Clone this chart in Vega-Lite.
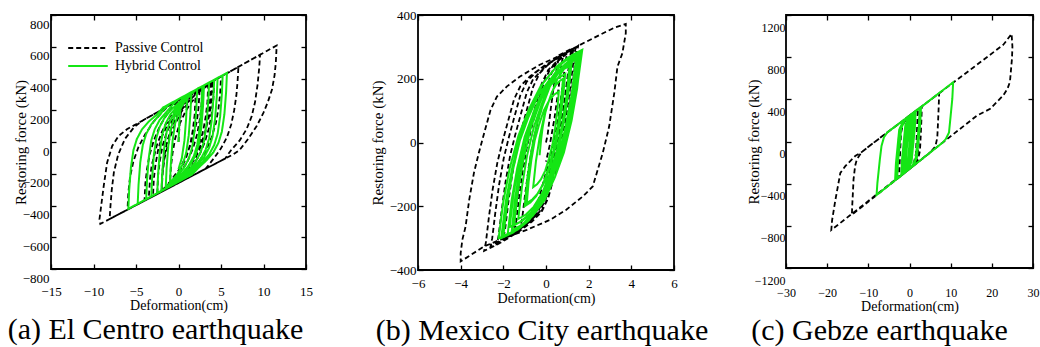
{
  "$schema": "https://vega.github.io/schema/vega-lite/v6.json",
  "background": "white",
  "padding": {"left": 6, "top": 8, "right": 0, "bottom": 0},
  "bounds": "flush",
  "spacing": 112,
  "config": {
    "font": "Liberation Serif",
    "view": {"stroke": "black", "strokeWidth": 1.8},
    "style": {"guide-label": {"font": "Liberation Serif"}, "guide-title": {"font": "Liberation Serif"}, "group-title": {"font": "Liberation Serif"}},
    "axis": {"grid": false, "domain": false, "ticks": true, "tickSize": -5, "tickColor": "black", "tickWidth": 1.3,
      "labelFont": "Liberation Serif", "labelFontSize": 13, "labelColor": "black", "labelFlush": false, "labelOverlap": false, "format": "d",
      "titleFont": "Liberation Serif", "titleFontSize": 15, "titleFontWeight": "normal", "titleColor": "black"},
    "legend": {"labelFont": "Liberation Serif", "titleFont": "Liberation Serif"},
    "title": {"font": "Liberation Serif", "fontSize": 30, "fontWeight": "normal", "color": "black"}
  },
  "resolve": {"scale": {"color": "independent", "strokeDash": "independent"}, "legend": {"color": "independent", "strokeDash": "independent"}},
  "datasets": {
    "ap": [
      {"s":"P","x":0,"y":0},{"s":"P","x":0.15,"y":125},{"s":"P","x":0.35,"y":210},{"s":"P","x":0.95,"y":290},{"s":"P","x":2.5,"y":337},
      {"s":"P","x":2.35,"y":212},{"s":"P","x":2.15,"y":127},{"s":"P","x":1.55,"y":2},{"s":"P","x":0.95,"y":-83},{"s":"P","x":0.15,"y":-168},{"s":"P","x":-1.05,"y":-253},{"s":"P","x":-2,"y":-314},
      {"s":"P","x":-1.85,"y":-189},{"s":"P","x":-1.65,"y":-104},{"s":"P","x":-1.05,"y":21},{"s":"P","x":-0.45,"y":106},{"s":"P","x":0.35,"y":191},{"s":"P","x":1.55,"y":276},{"s":"P","x":2.3,"y":326},{"s":"P","x":4,"y":382},
      {"s":"P","x":3.85,"y":257},{"s":"P","x":3.65,"y":172},{"s":"P","x":3.05,"y":47},{"s":"P","x":2.45,"y":-38},{"s":"P","x":1.65,"y":-123},{"s":"P","x":0.45,"y":-208},{"s":"P","x":-0.3,"y":-262},{"s":"P","x":-3.5,"y":-356},
      {"s":"P","x":-3.35,"y":-231},{"s":"P","x":-3.15,"y":-146},{"s":"P","x":-2.55,"y":-21},{"s":"P","x":-1.95,"y":64},{"s":"P","x":-1.15,"y":149},{"s":"P","x":0.05,"y":234},{"s":"P","x":1,"y":290},{"s":"P","x":6,"y":442},{"s":"P","x":11.55,"y":608},
      {"s":"P","x":11.45,"y":500},{"s":"P","x":11.3,"y":420},{"s":"P","x":11,"y":330},{"s":"P","x":10.5,"y":250},{"s":"P","x":10,"y":185},{"s":"P","x":9.2,"y":100},{"s":"P","x":8.2,"y":20},{"s":"P","x":7.2,"y":-50},{"s":"P","x":6.5,"y":-76},{"s":"P","x":0,"y":-258},{"s":"P","x":-9.2,"y":-516},
      {"s":"P","x":-9.3,"y":-488},{"s":"P","x":-9,"y":-362},{"s":"P","x":-8.8,"y":-278},{"s":"P","x":-8.4,"y":-130},{"s":"P","x":-7.8,"y":-25},{"s":"P","x":-7.05,"y":38},{"s":"P","x":-6.07,"y":80},{"s":"P","x":0,"y":262},{"s":"P","x":9.6,"y":550},
      {"s":"P","x":9.5,"y":470},{"s":"P","x":9.3,"y":360},{"s":"P","x":9,"y":250},{"s":"P","x":8.6,"y":160},{"s":"P","x":8,"y":80},{"s":"P","x":7.2,"y":10},{"s":"P","x":6.2,"y":-50},{"s":"P","x":5.5,"y":-104},{"s":"P","x":-8.1,"y":-485},
      {"s":"P","x":-8,"y":-400},{"s":"P","x":-7.85,"y":-300},{"s":"P","x":-7.6,"y":-190},{"s":"P","x":-7.1,"y":-80},{"s":"P","x":-6.3,"y":20},{"s":"P","x":-5.2,"y":95},{"s":"P","x":-4.2,"y":136},{"s":"P","x":7.05,"y":473},
      {"s":"P","x":6.95,"y":380},{"s":"P","x":6.8,"y":290},{"s":"P","x":6.55,"y":200},{"s":"P","x":6.2,"y":110},{"s":"P","x":5.7,"y":30},{"s":"P","x":5,"y":-40},{"s":"P","x":4.2,"y":-100},{"s":"P","x":3.2,"y":-168},{"s":"P","x":-6,"y":-426},
      {"s":"P","x":-5.9,"y":-320},{"s":"P","x":-5.7,"y":-220},{"s":"P","x":-5.3,"y":-120},{"s":"P","x":-4.7,"y":-30},{"s":"P","x":-3.9,"y":50},{"s":"P","x":-2.9,"y":130},{"s":"P","x":-1.8,"y":195},{"s":"P","x":-1.2,"y":226},{"s":"P","x":5,"y":412},
      {"s":"P","x":4.9,"y":300},{"s":"P","x":4.7,"y":210},{"s":"P","x":4.4,"y":120},{"s":"P","x":3.9,"y":30},{"s":"P","x":3.2,"y":-60},{"s":"P","x":2.3,"y":-130},{"s":"P","x":1.2,"y":-200},{"s":"P","x":0.5,"y":-244},{"s":"P","x":-4,"y":-370},
      {"s":"P","x":-3.9,"y":-260},{"s":"P","x":-3.7,"y":-170},{"s":"P","x":-3.4,"y":-80},{"s":"P","x":-2.9,"y":10},{"s":"P","x":-2.2,"y":100},{"s":"P","x":-1.3,"y":180},{"s":"P","x":-0.2,"y":250},{"s":"P","x":3.5,"y":367},
      {"s":"P","x":3.4,"y":250},{"s":"P","x":3.2,"y":160},{"s":"P","x":2.9,"y":70},{"s":"P","x":2.4,"y":-20},{"s":"P","x":1.7,"y":-110},{"s":"P","x":0.8,"y":-180},{"s":"P","x":-0.2,"y":-240},{"s":"P","x":-1,"y":-286},{"s":"P","x":-3,"y":-342},
      {"s":"P","x":-2.9,"y":-230},{"s":"P","x":-2.7,"y":-140},{"s":"P","x":-2.4,"y":-50},{"s":"P","x":-1.9,"y":40},{"s":"P","x":-1.2,"y":120},{"s":"P","x":-0.3,"y":190},{"s":"P","x":0.8,"y":250},{"s":"P","x":1.8,"y":305},{"s":"P","x":4.2,"y":388},
      {"s":"P","x":4.1,"y":270},{"s":"P","x":3.9,"y":180},{"s":"P","x":3.6,"y":90},{"s":"P","x":3.1,"y":0},{"s":"P","x":2.4,"y":-90},{"s":"P","x":1.5,"y":-160},{"s":"P","x":0.4,"y":-220},{"s":"P","x":-0.8,"y":-275},{"s":"P","x":-2.5,"y":-328},
      {"s":"P","x":-2.4,"y":-210},{"s":"P","x":-2.2,"y":-120},{"s":"P","x":-1.9,"y":-30},{"s":"P","x":-1.4,"y":60},{"s":"P","x":-0.6,"y":150},{"s":"P","x":0.4,"y":230},{"s":"P","x":1.5,"y":295},{"s":"P","x":2.8,"y":346},
      {"s":"P","x":2.7,"y":230},{"s":"P","x":2.5,"y":140},{"s":"P","x":2.2,"y":50},{"s":"P","x":1.7,"y":-40},{"s":"P","x":1,"y":-130},{"s":"P","x":0.1,"y":-200},{"s":"P","x":-1,"y":-260},{"s":"P","x":-2,"y":-305},
      {"s":"P","x":-1.9,"y":-190},{"s":"P","x":-1.7,"y":-100},{"s":"P","x":-1.4,"y":-10},{"s":"P","x":-0.9,"y":80},{"s":"P","x":-0.1,"y":170},{"s":"P","x":0.9,"y":240},{"s":"P","x":2,"y":300},{"s":"P","x":3.8,"y":370},
      {"s":"P","x":3.7,"y":250},{"s":"P","x":3.5,"y":160},{"s":"P","x":3.2,"y":70},{"s":"P","x":2.7,"y":-20},{"s":"P","x":2,"y":-100},{"s":"P","x":1.1,"y":-170},{"s":"P","x":0,"y":-230},{"s":"P","x":-1,"y":-270},
      {"s":"P","x":-0.9,"y":-160},{"s":"P","x":-0.7,"y":-70},{"s":"P","x":-0.4,"y":20},{"s":"P","x":0.1,"y":110},{"s":"P","x":0.8,"y":190},{"s":"P","x":1.5,"y":250},{"s":"P","x":2,"y":280},
      {"s":"P","x":1.9,"y":170},{"s":"P","x":1.7,"y":80},{"s":"P","x":1.4,"y":-10},{"s":"P","x":0.9,"y":-100},{"s":"P","x":0.2,"y":-180},{"s":"P","x":0,"y":-195}
    ],
    "ah": [
      {"s":"H","x":0,"y":0},{"s":"H","x":0.1,"y":120},{"s":"H","x":0.3,"y":260},{"s":"H","x":0.6,"y":287},{"s":"H","x":3,"y":357},
      {"s":"H","x":2.9,"y":237},{"s":"H","x":2.7,"y":97},{"s":"H","x":2.4,"y":-13},{"s":"H","x":2,"y":-83},{"s":"H","x":1.4,"y":-143},{"s":"H","x":0.6,"y":-193},{"s":"H","x":-0.5,"y":-262},{"s":"H","x":-2.5,"y":-322},
      {"s":"H","x":-2.4,"y":-202},{"s":"H","x":-2.2,"y":-62},{"s":"H","x":-1.9,"y":48},{"s":"H","x":-1.5,"y":118},{"s":"H","x":-0.9,"y":178},{"s":"H","x":-0.1,"y":228},{"s":"H","x":0.8,"y":280},{"s":"H","x":1.2,"y":305},{"s":"H","x":4.2,"y":392},
      {"s":"H","x":4.1,"y":272},{"s":"H","x":3.9,"y":132},{"s":"H","x":3.6,"y":22},{"s":"H","x":3.2,"y":-48},{"s":"H","x":2.6,"y":-108},{"s":"H","x":1.8,"y":-158},{"s":"H","x":0.9,"y":-200},{"s":"H","x":0.2,"y":-244},{"s":"H","x":-3.8,"y":-360},
      {"s":"H","x":-3.7,"y":-240},{"s":"H","x":-3.5,"y":-100},{"s":"H","x":-3.2,"y":10},{"s":"H","x":-2.8,"y":80},{"s":"H","x":-2.2,"y":140},{"s":"H","x":-1.4,"y":190},{"s":"H","x":-0.6,"y":240},{"s":"H","x":0,"y":270},{"s":"H","x":5.7,"y":435},
      {"s":"H","x":5.6,"y":315},{"s":"H","x":5.4,"y":175},{"s":"H","x":5.1,"y":65},{"s":"H","x":4.7,"y":-5},{"s":"H","x":4.1,"y":-65},{"s":"H","x":3.3,"y":-115},{"s":"H","x":2.4,"y":-160},{"s":"H","x":1.6,"y":-204},{"s":"H","x":-5.9,"y":-421},
      {"s":"H","x":-5.8,"y":-301},{"s":"H","x":-5.6,"y":-161},{"s":"H","x":-5.3,"y":-51},{"s":"H","x":-4.9,"y":19},{"s":"H","x":-4.3,"y":79},{"s":"H","x":-3.5,"y":129},{"s":"H","x":-2.6,"y":170},{"s":"H","x":-1.8,"y":218},{"s":"H","x":5.2,"y":421},
      {"s":"H","x":5.1,"y":301},{"s":"H","x":4.9,"y":161},{"s":"H","x":4.6,"y":51},{"s":"H","x":4.2,"y":-19},{"s":"H","x":3.6,"y":-79},{"s":"H","x":2.8,"y":-129},{"s":"H","x":2,"y":-170},{"s":"H","x":1.2,"y":-215},{"s":"H","x":-4.8,"y":-389},
      {"s":"H","x":-4.7,"y":-269},{"s":"H","x":-4.5,"y":-129},{"s":"H","x":-4.2,"y":-19},{"s":"H","x":-3.8,"y":51},{"s":"H","x":-3.2,"y":111},{"s":"H","x":-2.4,"y":161},{"s":"H","x":-1.6,"y":210},{"s":"H","x":-1,"y":241},{"s":"H","x":4.6,"y":403},
      {"s":"H","x":4.5,"y":283},{"s":"H","x":4.3,"y":143},{"s":"H","x":4,"y":33},{"s":"H","x":3.6,"y":-37},{"s":"H","x":3,"y":-97},{"s":"H","x":2.2,"y":-147},{"s":"H","x":1.4,"y":-190},{"s":"H","x":0.7,"y":-230},{"s":"H","x":-3.2,"y":-343},
      {"s":"H","x":-3.1,"y":-223},{"s":"H","x":-2.9,"y":-83},{"s":"H","x":-2.6,"y":27},{"s":"H","x":-2.2,"y":97},{"s":"H","x":-1.6,"y":157},{"s":"H","x":-0.8,"y":207},{"s":"H","x":0,"y":245},{"s":"H","x":0.6,"y":275},{"s":"H","x":1.2,"y":305},{"s":"H","x":3.6,"y":374},
      {"s":"H","x":3.5,"y":254},{"s":"H","x":3.3,"y":114},{"s":"H","x":3,"y":4},{"s":"H","x":2.6,"y":-66},{"s":"H","x":2,"y":-126},{"s":"H","x":1.2,"y":-176},{"s":"H","x":0.4,"y":-215},{"s":"H","x":-0.3,"y":-259},{"s":"H","x":-2.5,"y":-322},
      {"s":"H","x":-2.4,"y":-202},{"s":"H","x":-2.2,"y":-62},{"s":"H","x":-1.9,"y":48},{"s":"H","x":-1.5,"y":118},{"s":"H","x":-0.9,"y":178},{"s":"H","x":-0.1,"y":228},{"s":"H","x":0.7,"y":270},{"s":"H","x":1.3,"y":307},{"s":"H","x":2.8,"y":351},
      {"s":"H","x":2.7,"y":231},{"s":"H","x":2.5,"y":91},{"s":"H","x":2.2,"y":-19},{"s":"H","x":1.8,"y":-89},{"s":"H","x":1.2,"y":-149},{"s":"H","x":0.4,"y":-199},{"s":"H","x":-0.4,"y":-240},{"s":"H","x":-1,"y":-270},{"s":"H","x":-2,"y":-308},
      {"s":"H","x":-1.9,"y":-188},{"s":"H","x":-1.7,"y":-48},{"s":"H","x":-1.4,"y":62},{"s":"H","x":-1,"y":132},{"s":"H","x":-0.4,"y":192},{"s":"H","x":0.4,"y":242},{"s":"H","x":1.2,"y":290},{"s":"H","x":2.2,"y":334},
      {"s":"H","x":2.1,"y":214},{"s":"H","x":1.9,"y":74},{"s":"H","x":1.6,"y":-36},{"s":"H","x":1.2,"y":-106},{"s":"H","x":0.6,"y":-166},{"s":"H","x":-0.2,"y":-216},{"s":"H","x":-1,"y":-260},{"s":"H","x":-1.5,"y":-285},
      {"s":"H","x":-1.4,"y":-165},{"s":"H","x":-1.2,"y":-25},{"s":"H","x":-0.9,"y":85},{"s":"H","x":-0.5,"y":155},{"s":"H","x":0.1,"y":215},{"s":"H","x":0.9,"y":265},{"s":"H","x":1.5,"y":300},
      {"s":"H","x":1.4,"y":180},{"s":"H","x":1.2,"y":40},{"s":"H","x":0.9,"y":-70},{"s":"H","x":0.5,"y":-140},{"s":"H","x":-0.1,"y":-200},{"s":"H","x":-0.9,"y":-250},{"s":"H","x":-1,"y":-255},
      {"s":"H","x":-0.9,"y":-135},{"s":"H","x":-0.7,"y":5},{"s":"H","x":-0.4,"y":115},{"s":"H","x":0,"y":185},{"s":"H","x":0.6,"y":245},{"s":"H","x":1,"y":270},
      {"s":"H","x":0.9,"y":150},{"s":"H","x":0.7,"y":10},{"s":"H","x":0.4,"y":-100},{"s":"H","x":0,"y":-170}
    ],
    "bp": [
      {"x":0,"y":0},{"x":0.08,"y":26},{"x":0.23,"y":109},{"x":0.4,"y":193},{"x":0.62,"y":274},{"x":1.2,"y":294},
      {"x":1.12,"y":268},{"x":0.97,"y":185},{"x":0.8,"y":101},{"x":0.58,"y":17},{"x":0.35,"y":-46},{"x":0.1,"y":-108},{"x":-0.2,"y":-181},{"x":-0.5,"y":-223},{"x":-0.97,"y":-255},{"x":-1.5,"y":-286},
      {"x":-1.42,"y":-260},{"x":-1.27,"y":-177},{"x":-1.1,"y":-93},{"x":-0.88,"y":-9},{"x":-0.65,"y":54},{"x":-0.4,"y":116},{"x":-0.1,"y":189},{"x":0.2,"y":231},{"x":0.67,"y":263},{"x":1.5,"y":303},
      {"x":1.42,"y":277},{"x":1.27,"y":194},{"x":1.1,"y":110},{"x":0.88,"y":26},{"x":0.65,"y":-37},{"x":0.4,"y":-99},{"x":0.1,"y":-172},{"x":-0.2,"y":-214},{"x":-0.67,"y":-246},{"x":-1.28,"y":-277},{"x":-2.3,"y":-318},
      {"x":-2.22,"y":-292},{"x":-2.07,"y":-209},{"x":-1.9,"y":-125},{"x":-1.68,"y":-41},{"x":-1.45,"y":22},{"x":-1.2,"y":84},{"x":-0.9,"y":157},{"x":-0.6,"y":199},{"x":-0.13,"y":231},{"x":0.5,"y":266},{"x":1.5,"y":303},{"x":2.5,"y":337},{"x":3.2,"y":360},{"x":3.74,"y":372},
      {"x":3.74,"y":343},{"x":3.58,"y":280},{"x":3.35,"y":238},{"x":3.2,"y":155},{"x":2.96,"y":50},{"x":2.66,"y":-33},{"x":2.19,"y":-138},{"x":1.73,"y":-169},{"x":0.95,"y":-211},{"x":0.18,"y":-243},{"x":-0.9,"y":-274},{"x":-2.14,"y":-305},{"x":-2.9,"y":-326},{"x":-4,"y":-373},
      {"x":-4,"y":-347},{"x":-3.92,"y":-305},{"x":-3.77,"y":-264},{"x":-3.6,"y":-180},{"x":-3.38,"y":-96},{"x":-3.15,"y":-33},{"x":-2.9,"y":29},{"x":-2.6,"y":102},{"x":-2.3,"y":144},{"x":-1.83,"y":176},{"x":-1.22,"y":207},{"x":-0.29,"y":244},{"x":0.5,"y":268},{"x":1.5,"y":300},
      {"x":1.42,"y":274},{"x":1.27,"y":191},{"x":1.1,"y":107},{"x":0.88,"y":23},{"x":0.65,"y":-40},{"x":0.4,"y":-102},{"x":0.1,"y":-175},{"x":-0.2,"y":-217},{"x":-0.67,"y":-249},{"x":-1.28,"y":-280},{"x":-2.2,"y":-317},{"x":-2.9,"y":-340},
      {"x":-2.82,"y":-314},{"x":-2.67,"y":-231},{"x":-2.5,"y":-147},{"x":-2.28,"y":-63},{"x":-2.05,"y":0},{"x":-1.8,"y":62},{"x":-1.5,"y":135},{"x":-1.2,"y":177},{"x":-0.73,"y":209},{"x":-0.1,"y":240},{"x":0.6,"y":268},{"x":1.3,"y":297},
      {"x":1.22,"y":271},{"x":1.07,"y":188},{"x":0.9,"y":104},{"x":0.68,"y":20},{"x":0.45,"y":-43},{"x":0.2,"y":-105},{"x":-0.1,"y":-178},{"x":-0.4,"y":-220},{"x":-0.87,"y":-252},{"x":-1.5,"y":-283},{"x":-2.6,"y":-326},
      {"x":-2.52,"y":-300},{"x":-2.37,"y":-217},{"x":-2.2,"y":-133},{"x":-1.98,"y":-49},{"x":-1.75,"y":14},{"x":-1.5,"y":76},{"x":-1.2,"y":149},{"x":-0.9,"y":191},{"x":-0.43,"y":223},{"x":0.2,"y":250},{"x":0.8,"y":275},{"x":1.4,"y":300},
      {"x":1.32,"y":274},{"x":1.17,"y":191},{"x":1,"y":107},{"x":0.78,"y":23},{"x":0.55,"y":-40},{"x":0.3,"y":-102},{"x":0,"y":-175},{"x":-0.3,"y":-217},{"x":-0.77,"y":-249},{"x":-1.4,"y":-280},{"x":-2,"y":-300},
      {"x":-1.92,"y":-274},{"x":-1.77,"y":-191},{"x":-1.6,"y":-107},{"x":-1.38,"y":-23},{"x":-1.15,"y":40},{"x":-0.9,"y":102},{"x":-0.6,"y":175},{"x":-0.3,"y":217},{"x":0.17,"y":249},{"x":0.7,"y":273},{"x":1.2,"y":290},
      {"x":1.12,"y":264},{"x":0.97,"y":181},{"x":0.8,"y":97},{"x":0.58,"y":13},{"x":0.35,"y":-50},{"x":0.1,"y":-112},{"x":-0.2,"y":-185},{"x":-0.5,"y":-227},{"x":-0.97,"y":-259},{"x":-1.6,"y":-290},
      {"x":-1.52,"y":-264},{"x":-1.37,"y":-181},{"x":-1.2,"y":-97},{"x":-0.98,"y":-13},{"x":-0.75,"y":50},{"x":-0.5,"y":112},{"x":-0.2,"y":185},{"x":0.1,"y":227},{"x":0.57,"y":259},{"x":1,"y":283},
      {"x":0.92,"y":257},{"x":0.77,"y":174},{"x":0.6,"y":90},{"x":0.38,"y":6},{"x":0.15,"y":-57},{"x":-0.1,"y":-119},{"x":-0.4,"y":-192},{"x":-0.7,"y":-234},{"x":-1.2,"y":-266},
      {"x":-1.12,"y":-240},{"x":-0.97,"y":-157},{"x":-0.8,"y":-73},{"x":-0.58,"y":11},{"x":-0.35,"y":74},{"x":-0.1,"y":136},{"x":0.2,"y":209},{"x":0.5,"y":251},{"x":0.8,"y":270},
      {"x":0.72,"y":244},{"x":0.57,"y":161},{"x":0.4,"y":77},{"x":0.18,"y":-7},{"x":0,"y":-60}
    ],
    "bh": [
      {"x":-0.3,"y":-40},
      {"x":-0.23,"y":8},{"x":-0.15,"y":51},{"x":-0.03,"y":94},{"x":0.12,"y":128},{"x":0.28,"y":159},{"x":0.47,"y":181},{"x":0.64,"y":193},{"x":0.8,"y":200},
      {"x":0.69,"y":120},{"x":0.55,"y":48},{"x":0.35,"y":-24},{"x":0.12,"y":-80},{"x":-0.15,"y":-132},{"x":-0.46,"y":-168},{"x":-0.73,"y":-188},{"x":-1,"y":-200},
      {"x":-0.87,"y":-110},{"x":-0.69,"y":-29},{"x":-0.45,"y":52},{"x":-0.16,"y":115},{"x":0.17,"y":174},{"x":0.54,"y":214},{"x":0.87,"y":237},{"x":1.2,"y":250},
      {"x":1.04,"y":148},{"x":0.82,"y":56},{"x":0.53,"y":-36},{"x":0.17,"y":-107},{"x":-0.23,"y":-173},{"x":-0.69,"y":-219},{"x":-1.1,"y":-245},{"x":-1.5,"y":-260},
      {"x":-1.31,"y":-150},{"x":-1.05,"y":-51},{"x":-0.7,"y":49},{"x":-0.28,"y":126},{"x":0.2,"y":197},{"x":0.74,"y":247},{"x":1.22,"y":274},{"x":1.7,"y":291},
      {"x":1.46,"y":173},{"x":1.15,"y":66},{"x":0.72,"y":-40},{"x":0.21,"y":-123},{"x":-0.38,"y":-200},{"x":-1.04,"y":-253},{"x":-1.63,"y":-282},{"x":-2.22,"y":-300},
      {"x":-2,"y":-185},{"x":-1.7,"y":-81},{"x":-1.29,"y":22},{"x":-0.81,"y":103},{"x":-0.25,"y":177},{"x":0.38,"y":229},{"x":0.94,"y":258},{"x":1.5,"y":275},
      {"x":1.3,"y":162},{"x":1.04,"y":60},{"x":0.68,"y":-41},{"x":0.25,"y":-121},{"x":-0.25,"y":-194},{"x":-0.81,"y":-245},{"x":-1.31,"y":-273},{"x":-1.8,"y":-290},
      {"x":-1.61,"y":-180},{"x":-1.35,"y":-81},{"x":-1,"y":18},{"x":-0.58,"y":95},{"x":-0.1,"y":167},{"x":0.44,"y":216},{"x":0.92,"y":244},{"x":1.4,"y":260},
      {"x":1.2,"y":149},{"x":0.92,"y":49},{"x":0.55,"y":-51},{"x":0.11,"y":-129},{"x":-0.4,"y":-201},{"x":-0.98,"y":-251},{"x":-1.49,"y":-278},{"x":-2,"y":-295},
      {"x":-1.81,"y":-188},{"x":-1.57,"y":-92},{"x":-1.23,"y":5},{"x":-0.82,"y":80},{"x":-0.36,"y":149},{"x":0.17,"y":197},{"x":0.64,"y":224},{"x":1.1,"y":240},
      {"x":0.96,"y":144},{"x":0.76,"y":58},{"x":0.5,"y":-29},{"x":0.19,"y":-96},{"x":-0.17,"y":-158},{"x":-0.58,"y":-202},{"x":-0.94,"y":-226},{"x":-1.3,"y":-240},
      {"x":-1.12,"y":-136},{"x":-0.89,"y":-42},{"x":-0.56,"y":51},{"x":-0.18,"y":124},{"x":0.26,"y":192},{"x":0.77,"y":238},{"x":1.21,"y":264},{"x":1.65,"y":280},
      {"x":1.46,"y":169},{"x":1.2,"y":69},{"x":0.84,"y":-31},{"x":0.42,"y":-109},{"x":-0.07,"y":-181},{"x":-0.63,"y":-231},{"x":-1.11,"y":-258},{"x":-1.6,"y":-275},
      {"x":-1.45,"y":-177},{"x":-1.25,"y":-89},{"x":-0.98,"y":-1},{"x":-0.65,"y":68},{"x":-0.28,"y":132},{"x":0.15,"y":176},{"x":0.53,"y":200},{"x":0.9,"y":215},
      {"x":0.79,"y":134},{"x":0.65,"y":61},{"x":0.45,"y":-12},{"x":0.22,"y":-69},{"x":-0.05,"y":-121},{"x":-0.36,"y":-158},{"x":-0.63,"y":-178},{"x":-0.9,"y":-190},
      {"x":-0.81,"y":-120},{"x":-0.69,"y":-57},{"x":-0.53,"y":6},{"x":-0.33,"y":55},{"x":-0.1,"y":101},{"x":0.15,"y":132},{"x":0.38,"y":150},{"x":0.6,"y":160},
      {"x":0.53,"y":100},{"x":0.43,"y":46},{"x":0.3,"y":-8},{"x":0.14,"y":-50},{"x":-0.04,"y":-89},{"x":-0.24,"y":-116},{"x":-0.42,"y":-131},{"x":-0.6,"y":-140},
      {"x":-0.47,"y":-58},{"x":-0.3,"y":16},{"x":-0.06,"y":90},{"x":0.22,"y":147},{"x":0.54,"y":200},{"x":0.91,"y":237},{"x":1.23,"y":258},{"x":1.55,"y":270},
      {"x":1.33,"y":156},{"x":1.04,"y":53},{"x":0.64,"y":-49},{"x":0.16,"y":-129},{"x":-0.39,"y":-203},{"x":-1.01,"y":-254},{"x":-1.55,"y":-283},{"x":-2.1,"y":-300},
      {"x":-1.88,"y":-183},{"x":-1.58,"y":-78},{"x":-1.18,"y":28},{"x":-0.69,"y":110},{"x":-0.14,"y":186},{"x":0.49,"y":238},{"x":1.05,"y":267},{"x":1.6,"y":285},
      {"x":1.4,"y":175},{"x":1.14,"y":76},{"x":0.78,"y":-23},{"x":0.35,"y":-100},{"x":-0.15,"y":-172},{"x":-0.71,"y":-221},{"x":-1.21,"y":-249},{"x":-1.7,"y":-265},
      {"x":-1.52,"y":-161},{"x":-1.28,"y":-67},{"x":-0.95,"y":26},{"x":-0.56,"y":99},{"x":-0.11,"y":167},{"x":0.4,"y":213},{"x":0.85,"y":239},{"x":1.3,"y":255}
    ],
    "cp": [
      {"x":0,"y":0},{"x":0.1,"y":120},{"x":0.25,"y":250},{"x":2.5,"y":319},
      {"x":2.4,"y":199},{"x":2.25,"y":59},{"x":2.05,"y":-101},{"x":1.6,"y":-181},{"x":0.5,"y":-245},{"x":-2.5,"y":-339},
      {"x":-2.4,"y":-219},{"x":-2.25,"y":-79},{"x":-2.05,"y":81},{"x":-1.6,"y":161},{"x":-0.5,"y":230},{"x":3,"y":334},
      {"x":2.9,"y":214},{"x":2.75,"y":74},{"x":2.55,"y":-86},{"x":2.1,"y":-166},{"x":1,"y":-230},{"x":-14,"y":-695},
      {"x":-13.9,"y":-600},{"x":-13.7,"y":-450},{"x":-13.6,"y":-362},{"x":-13.2,"y":-230},{"x":-12.8,"y":-170},{"x":-11.6,"y":-100},{"x":-9.2,"y":-26},{"x":0.4,"y":257},{"x":8.4,"y":493},{"x":15.6,"y":705},{"x":19.6,"y":823},{"x":22.8,"y":918},{"x":24.8,"y":1021},
      {"x":25,"y":900},{"x":24.9,"y":790},{"x":24.4,"y":566},{"x":23.8,"y":500},{"x":22.8,"y":438},{"x":19.6,"y":310},{"x":16.4,"y":246},{"x":-19,"y":-840},
      {"x":-18.8,"y":-746},{"x":-18,"y":-554},{"x":-16.8,"y":-298},{"x":-15.6,"y":-234},{"x":-13.2,"y":-138},{"x":-11.6,"y":-100},{"x":-9.2,"y":-26},{"x":0.4,"y":257},{"x":7.2,"y":457},
      {"x":7.1,"y":337},{"x":6.95,"y":197},{"x":6.75,"y":37},{"x":6.3,"y":-45},{"x":5,"y":-106},{"x":-3,"y":-354},
      {"x":-2.9,"y":-234},{"x":-2.75,"y":-94},{"x":-2.55,"y":66},{"x":-2.1,"y":146},{"x":-1,"y":215},{"x":2,"y":304},
      {"x":1.9,"y":184},{"x":1.75,"y":44},{"x":1.55,"y":-116},{"x":1.1,"y":-196},{"x":0.2,"y":-255},{"x":-1.5,"y":-307},
      {"x":-1.4,"y":-187},{"x":-1.25,"y":-47},{"x":-1.05,"y":113},{"x":-0.6,"y":193},{"x":0,"y":245},{"x":1,"y":275},
      {"x":0.9,"y":155},{"x":0.75,"y":15},{"x":0.55,"y":-145},{"x":0,"y":-230}
    ],
    "ch": [
      {"x":0,"y":0},{"x":0.2,"y":160},{"x":0.6,"y":262},{"x":1,"y":275},
      {"x":0.8,"y":115},{"x":0.4,"y":-45},{"x":0,"y":-205},{"x":-0.8,"y":-275},{"x":-1,"y":-290},
      {"x":-0.8,"y":-130},{"x":-0.4,"y":30},{"x":0,"y":190},{"x":0.8,"y":262},{"x":1.5,"y":289},
      {"x":1.3,"y":129},{"x":0.9,"y":-31},{"x":0.5,"y":-191},{"x":-0.3,"y":-262},{"x":-1.1,"y":-290},{"x":-2,"y":-323},
      {"x":-1.8,"y":-163},{"x":-1.4,"y":-3},{"x":-1,"y":157},{"x":-0.2,"y":230},{"x":0.6,"y":262},{"x":2.8,"y":328},
      {"x":2.6,"y":168},{"x":2.2,"y":8},{"x":1.8,"y":-152},{"x":1,"y":-222},{"x":0.2,"y":-252},{"x":-3.5,"y":-369},
      {"x":-3.3,"y":-209},{"x":-2.9,"y":-49},{"x":-2.5,"y":111},{"x":-1.7,"y":180},{"x":-0.9,"y":215},{"x":10.6,"y":562},
      {"x":10.4,"y":406},{"x":10,"y":246},{"x":9.6,"y":86},{"x":8.8,"y":22},{"x":8,"y":-13},{"x":-8,"y":-509},
      {"x":-7.8,"y":-394},{"x":-7.2,"y":-170},{"x":-6.8,"y":-42},{"x":-6.2,"y":40},{"x":-5.4,"y":85},{"x":2.5,"y":319},
      {"x":2.3,"y":159},{"x":1.9,"y":-1},{"x":1.5,"y":-161},{"x":0.7,"y":-232},{"x":-0.1,"y":-262},{"x":-3,"y":-354},
      {"x":-2.8,"y":-194},{"x":-2.4,"y":-34},{"x":-2,"y":126},{"x":-1.2,"y":196},{"x":-0.4,"y":233},{"x":1.5,"y":289},
      {"x":1.3,"y":129},{"x":0.9,"y":-31},{"x":0.5,"y":-191},{"x":-0.3,"y":-262},{"x":-2,"y":-323},
      {"x":-1.8,"y":-163},{"x":-1.4,"y":-3},{"x":-1,"y":157},{"x":-0.2,"y":228},{"x":1,"y":275},
      {"x":0.8,"y":115},{"x":0.4,"y":-45},{"x":0,"y":-205},{"x":-0.8,"y":-280},{"x":-1.5,"y":-300},
      {"x":-1.3,"y":-140},{"x":-0.9,"y":20},{"x":-0.5,"y":180},{"x":0.1,"y":245},{"x":0.5,"y":260},
      {"x":0.3,"y":100},{"x":-0.1,"y":-60},{"x":-0.5,"y":-220},{"x":-1,"y":-280},
      {"x":-0.8,"y":-120},{"x":-0.4,"y":40},{"x":0,"y":190}
    ]
  },
  "hconcat": [
    {
      "width": 255, "height": 254,
      "title": {"text": "(a) El Centro earthquake", "orient": "bottom", "anchor": "middle", "frame": "group", "dx": -23, "offset": 3, "baseline": "top", "font": "Liberation Serif"},
      "layer": [
        {
          "data": {"name": "ap"},
          "mark": {"type": "line", "strokeWidth": 1.8},
          "encoding": {
            "x": {"field": "x", "type": "quantitative", "scale": {"domain": [-15, 15], "nice": false, "zero": false},
              "axis": {"orient": "bottom", "values": [-15, -10, -5, 0, 5, 10, 15], "title": "Deformation(cm)", "labelFont": "Liberation Serif", "titleFont": "Liberation Serif", "labelPadding": 21, "titleY": 36, "titleBaseline": "middle", "titleFontSize": 14}},
            "y": {"field": "y", "type": "quantitative", "scale": {"domain": [-800, 800], "nice": false, "zero": false},
              "axis": {"orient": "left", "values": [-800, -600, -400, -200, 0, 200, 400, 600, 800], "title": "Restoring force (kN)", "labelFont": "Liberation Serif", "titleFont": "Liberation Serif", "labelPadding": 7, "labelOffset": 9, "titleX": -31, "titleBaseline": "middle"}},
            "color": {"field": "s", "type": "nominal", "scale": {"domain": ["P", "H"], "range": ["#000000", "#14e614"]},
              "legend": {"title": null, "orient": "none", "legendX": 27, "legendY": 23, "symbolType": "M-2.2,0H2.2", "symbolSize": 324, "symbolStrokeWidth": 1.8, "labelFont": "Liberation Serif", "labelFontSize": 14, "labelColor": "black", "labelOffset": 17, "rowPadding": 1, "padding": 0, "labelExpr": "datum.label == 'P' ? 'Passive Control' : 'Hybrid Control'"}},
            "strokeDash": {"field": "s", "type": "nominal", "scale": {"domain": ["P", "H"], "range": [[5, 3], [1, 0]]},
              "legend": {"title": null, "orient": "none", "legendX": 27, "legendY": 23, "symbolType": "M-2.2,0H2.2", "symbolSize": 324, "symbolStrokeWidth": 1.8, "labelFont": "Liberation Serif", "labelFontSize": 14, "labelColor": "black", "labelOffset": 17, "rowPadding": 1, "padding": 0, "labelExpr": "datum.label == 'P' ? 'Passive Control' : 'Hybrid Control'"}},
            "order": {"value": null}
          }
        },
        {
          "data": {"name": "ah"},
          "mark": {"type": "line", "strokeWidth": 2},
          "encoding": {
            "x": {"field": "x", "type": "quantitative", "scale": {"domain": [-15, 15], "nice": false, "zero": false},
              "axis": {"orient": "top", "values": [-15, -10, -5, 0, 5, 10, 15], "labels": false, "title": null}},
            "y": {"field": "y", "type": "quantitative", "scale": {"domain": [-800, 800], "nice": false, "zero": false},
              "axis": {"orient": "right", "values": [-800, -600, -400, -200, 0, 200, 400, 600, 800], "labels": false, "title": null}},
            "color": {"field": "s", "type": "nominal"},
            "strokeDash": {"field": "s", "type": "nominal"},
            "order": {"value": null}
          }
        }
      ],
      "resolve": {"axis": {"x": "independent", "y": "independent"}}
    },
    {
      "width": 256, "height": 255,
      "title": {"text": "(b) Mexico City earthquake", "orient": "bottom", "anchor": "middle", "frame": "group", "dx": -4, "offset": 11, "baseline": "top", "font": "Liberation Serif"},
      "layer": [
        {
          "data": {"name": "bp"},
          "mark": {"type": "line", "strokeWidth": 1.8, "color": "#000000", "strokeDash": [5, 3]},
          "encoding": {
            "x": {"field": "x", "type": "quantitative", "scale": {"domain": [-6, 6], "nice": false, "zero": false},
              "axis": {"orient": "bottom", "values": [-6, -4, -2, 0, 2, 4, 6], "title": "Deformation(cm)", "labelFont": "Liberation Serif", "titleFont": "Liberation Serif", "labelPadding": 12, "titleY": 28, "titleBaseline": "middle", "titleFontSize": 14}},
            "y": {"field": "y", "type": "quantitative", "scale": {"domain": [-400, 400], "nice": false, "zero": false},
              "axis": {"orient": "left", "values": [-400, -200, 0, 200, 400], "title": "Restoring force (kN)", "labelFont": "Liberation Serif", "titleFont": "Liberation Serif", "labelPadding": 7, "titleX": -41, "titleBaseline": "middle"}},
            "order": {"value": null}
          }
        },
        {
          "data": {"name": "bh"},
          "mark": {"type": "line", "strokeWidth": 2, "color": "#14e614"},
          "encoding": {
            "x": {"field": "x", "type": "quantitative", "scale": {"domain": [-6, 6], "nice": false, "zero": false},
              "axis": {"orient": "top", "values": [-6, -4, -2, 0, 2, 4, 6], "labels": false, "title": null}},
            "y": {"field": "y", "type": "quantitative", "scale": {"domain": [-400, 400], "nice": false, "zero": false},
              "axis": {"orient": "right", "values": [-400, -200, 0, 200, 400], "labels": false, "title": null}},
            "order": {"value": null}
          }
        }
      ],
      "resolve": {"axis": {"x": "independent", "y": "independent"}}
    },
    {
      "width": 247, "height": 253,
      "title": {"text": "(c) Gebze earthquake", "orient": "bottom", "anchor": "middle", "frame": "group", "dx": -30, "offset": 3, "baseline": "top", "font": "Liberation Serif"},
      "layer": [
        {
          "data": {"name": "cp"},
          "mark": {"type": "line", "strokeWidth": 1.8, "color": "#000000", "strokeDash": [5, 3]},
          "encoding": {
            "x": {"field": "x", "type": "quantitative", "scale": {"domain": [-30, 30], "nice": false, "zero": false},
              "axis": {"orient": "bottom", "values": [-30, -20, -10, 0, 10, 20, 30], "title": "Deformation(cm)", "labelFont": "Liberation Serif", "titleFont": "Liberation Serif", "labelPadding": 24, "labelFontSize": 12, "titleY": 38, "titleBaseline": "middle", "titleFontSize": 14}},
            "y": {"field": "y", "type": "quantitative", "scale": {"domain": [-1200, 1200], "nice": false, "zero": false},
              "axis": {"orient": "left", "values": [-1200, -800, -400, 0, 400, 800, 1200], "title": "Restoring force (kN)", "labelFont": "Liberation Serif", "titleFont": "Liberation Serif", "labelPadding": 6, "labelOffset": 12, "labelFontSize": 12, "titleX": -33, "titleBaseline": "middle"}},
            "order": {"value": null}
          }
        },
        {
          "data": {"name": "ch"},
          "mark": {"type": "line", "strokeWidth": 2, "color": "#14e614"},
          "encoding": {
            "x": {"field": "x", "type": "quantitative", "scale": {"domain": [-30, 30], "nice": false, "zero": false},
              "axis": {"orient": "top", "values": [-30, -20, -10, 0, 10, 20, 30], "labels": false, "title": null}},
            "y": {"field": "y", "type": "quantitative", "scale": {"domain": [-1200, 1200], "nice": false, "zero": false},
              "axis": {"orient": "right", "values": [-1200, -800, -400, 0, 400, 800, 1200], "labels": false, "title": null}},
            "order": {"value": null}
          }
        }
      ],
      "resolve": {"axis": {"x": "independent", "y": "independent"}}
    }
  ]
}
